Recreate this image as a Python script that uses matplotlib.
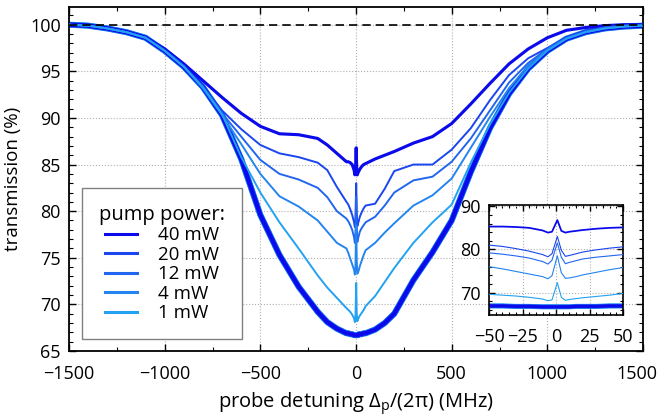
import matplotlib
matplotlib.use('Agg')
import matplotlib.pyplot as plt
from matplotlib.ticker import MultipleLocator
from matplotlib.transforms import ScaledTranslation

plt.rcParams['font.family'] = ['Open Sans', 'DejaVu Sans']
plt.rcParams['mathtext.fontset'] = 'custom'
plt.rcParams['mathtext.rm'] = 'Open Sans'
plt.rcParams['mathtext.it'] = 'Open Sans:italic'
plt.rcParams['font.size'] = 13

# probe detuning (MHz), shared by all traces
detuning = [-1500, -1400, -1300, -1200, -1100, -1000, -900, -800, -700, -600,
            -500, -400, -300, -200, -150, -100,
            -50, -40, -30, -20, -10, -6, -3, 1, 4, 7, 10, 15, 20, 30, 40, 50,
            100, 150, 200, 300, 400, 500, 600, 700, 800, 900, 1000, 1100,
            1200, 1300, 1400, 1500]

# transmission (%) without pump (Doppler background)
pump_off = [100.0, 99.9, 99.6, 99.2, 98.6, 97.2, 95.5, 93.3, 90.3, 85.6,
            79.6, 75.3, 71.9, 69.2, 68.1, 67.4,
            66.9, 66.9, 66.8, 66.8, 66.7, 66.7, 66.7, 66.7, 66.7, 66.7, 66.7,
            66.8, 66.8, 66.8, 66.9, 66.9,
            67.3, 68.0, 69.0, 72.6, 75.6, 79.0, 84.2, 88.9, 92.6, 95.3, 97.2,
            98.5, 99.2, 99.6, 99.8, 99.9]

# transmission (%) with pump
t_40mw = [100.0, 99.9, 99.6, 99.2, 98.6, 97.4, 95.8, 94.0, 92.2, 90.5,
          89.1, 88.3, 88.2, 87.8, 87.1, 86.2,
          85.3, 85.3, 85.2, 85.0, 84.4, 83.9, 84.1, 86.8, 84.3, 83.9, 84.1,
          84.3, 84.5, 84.8, 85.0, 85.1,
          85.6, 86.0, 86.4, 87.3, 88.0, 89.4, 91.5, 93.7, 95.8, 97.4, 98.6,
          99.4, 99.7, 99.9, 100.0, 100.0]
t_20mw = [100.0, 99.9, 99.6, 99.2, 98.6, 97.3, 95.6, 93.4, 90.8, 88.8,
          87.1, 86.2, 85.8, 85.2, 84.4, 82.6,
          81.0, 80.7, 80.2, 79.6, 78.8, 78.3, 79.0, 83.0, 79.8, 78.4, 78.6,
          79.0, 79.4, 79.9, 80.3, 80.6,
          80.8, 82.4, 84.3, 85.0, 85.0, 86.6, 88.9, 91.9, 94.6, 96.4, 97.5,
          98.6, 99.3, 99.7, 99.9, 100.0]
t_12mw = [100.0, 99.9, 99.6, 99.2, 98.6, 97.2, 95.5, 93.2, 90.5, 88.0,
          85.5, 84.0, 83.4, 82.5, 81.5, 80.0,
          79.2, 78.9, 78.5, 78.0, 77.2, 76.6, 77.5, 81.5, 78.2, 76.7, 77.0,
          77.4, 77.8, 78.2, 78.5, 78.8,
          79.4, 80.6, 82.0, 83.3, 83.7, 85.3, 87.8, 90.8, 93.8, 95.9, 97.4,
          98.6, 99.3, 99.7, 99.9, 100.0]
t_4mw = [100.0, 99.9, 99.6, 99.2, 98.6, 97.2, 95.5, 93.2, 90.3, 87.2,
         84.0, 81.6, 80.5, 79.0, 77.8, 76.6,
         76.0, 75.5, 74.9, 74.3, 73.7, 73.2, 73.9, 78.5, 74.6, 73.3, 73.4,
         73.7, 74.1, 74.7, 75.3, 75.8,
         76.6, 77.7, 78.7, 80.6, 81.7, 83.5, 86.8, 90.1, 93.2, 95.6, 97.3,
         98.5, 99.2, 99.6, 99.8, 99.9]
t_1mw = [100.0, 99.9, 99.6, 99.2, 98.6, 97.2, 95.5, 93.3, 90.4, 85.8,
         82.0, 78.8, 76.0, 73.1, 71.8, 70.7,
         69.6, 69.4, 69.2, 68.9, 68.5, 68.1, 68.3, 72.3, 68.9, 68.2, 68.4,
         68.6, 68.8, 69.1, 69.4, 69.8,
         70.9, 72.4, 73.9, 76.6, 78.8, 80.7, 85.2, 89.3, 92.7, 95.3, 97.2,
         98.5, 99.2, 99.6, 99.8, 99.9]

labels = ['40 mW', '20 mW', '12 mW', '4 mW', '1 mW']
traces = [t_40mw, t_20mw, t_12mw, t_4mw, t_1mw]
colors = ['#0a0aeb', '#1a46f0', '#2266f0', '#2484f0', '#22a2f0']


def draw(axis, lw_on, lw_off):
    # pump-off references first (light ones wider so they peek out)
    for i in range(len(traces) - 1, -1, -1):
        axis.plot(detuning, pump_off, color=colors[i], lw=lw_off + 0.35 * i,
                  solid_capstyle='butt', zorder=2)
    for i in range(len(traces)):
        lw = lw_on * 1.6 if i == 0 else lw_on
        axis.plot(detuning, traces[i], color=colors[i], lw=lw,
                  label=labels[i], zorder=3)


fig = plt.figure(figsize=(6.59, 4.2), dpi=100)
ax = fig.add_axes([69 / 659, 69 / 420, 574 / 659, 344 / 420])

draw(ax, 1.4, 3.0)
ax.axhline(100, color='black', lw=1.2, ls=(0, (5, 3)), zorder=5)

ax.set_xlim(-1500, 1500)
ax.set_ylim(65, 101.9)
ax.xaxis.set_major_locator(MultipleLocator(500))
ax.xaxis.set_minor_locator(MultipleLocator(250))
ax.yaxis.set_major_locator(MultipleLocator(5))
ax.yaxis.set_minor_locator(MultipleLocator(1))
ax.tick_params(which='both', direction='in', top=True, right=True)
ax.tick_params(which='major', length=5, width=1)
ax.tick_params(which='minor', length=3, width=0.8)
ax.tick_params(axis='x', which='major', pad=10)
ax.tick_params(axis='y', which='major', pad=6)
ax.grid(True, which='major', color='#b0b0b0', ls=':', lw=0.8)
for s in ax.spines.values():
    s.set_linewidth(1.3)
ax.set_xlabel('probe detuning Δ$_\\mathrm{p}$/(2π) (MHz)', fontsize=14.5,
              labelpad=5)
ax.set_ylabel('transmission (%)', fontsize=13.5, labelpad=6)

# nudge the last x tick label so it stays inside the figure
fig.canvas.draw()
last = ax.xaxis.get_major_ticks()[-1].label1
for t in ax.xaxis.get_major_ticks():
    if abs(t.get_loc() - 1500) < 1:
        last = t.label1
last.set_transform(last.get_transform()
                   + ScaledTranslation(-6 / 100, 0, fig.dpi_scale_trans))

leg = ax.legend(title='pump power:', loc='lower left',
                bbox_to_anchor=(0.0226, 0.035), borderaxespad=0,
                fancybox=False, framealpha=1, edgecolor='#808080',
                fontsize=13.5, title_fontsize=14.5,
                handlelength=1.7, handletextpad=1.1, labelspacing=0.08,
                borderpad=0.9)
leg.get_frame().set_linewidth(1.0)
for line in leg.get_lines():
    line.set_linewidth(2.2)

# inset: zoom on the narrow central feature
axin = fig.add_axes([489 / 659, 105 / 420, 134 / 659, 110 / 420])
draw(axin, 0.8, 2.2)
axin.set_xlim(-50, 50)
axin.set_ylim(64.8, 90.3)
axin.xaxis.set_major_locator(MultipleLocator(25))
axin.xaxis.set_minor_locator(MultipleLocator(5))
axin.yaxis.set_major_locator(MultipleLocator(10))
axin.yaxis.set_minor_locator(MultipleLocator(2))
axin.tick_params(which='both', direction='in', top=True, right=True)
axin.tick_params(which='major', length=4, width=1)
axin.tick_params(which='minor', length=2.5, width=0.8)
axin.tick_params(axis='x', which='major', pad=9)
axin.tick_params(axis='y', which='major', pad=6)
axin.grid(True, which='major', color='#b0b0b0', ls=':', lw=0.8)
for s in axin.spines.values():
    s.set_linewidth(1.2)

fig.savefig('out.png', dpi=100)
